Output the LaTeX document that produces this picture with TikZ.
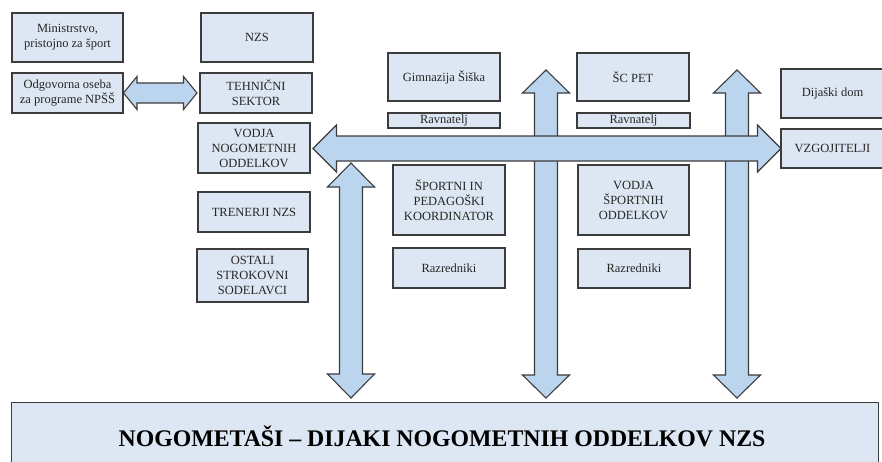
\documentclass[tikz,border=0pt]{standalone}
\usepackage{fontspec}
\setmainfont{Liberation Serif}
\usetikzlibrary{calc}
\definecolor{boxfill}{HTML}{DDE7F3}
\definecolor{arrfill}{HTML}{BCD5EE}
\definecolor{edge}{HTML}{3C3C3C}
\tikzset{
  orgbox/.style={draw=edge, fill=boxfill, line width=1.1pt, inner sep=0pt, align=center,
    font=\fontsize{12.5}{15}\selectfont, text=black!85},
  blockarrow/.style={draw=edge, fill=arrfill, line width=1.1pt, line join=miter}
}
% box: name, x1, y1, x2, y2, text
\newcommand{\orgbx}[6]{%
  \node[orgbox, minimum width={(#4-#2)*1pt}, minimum height={(#5-#3)*1pt}]
    (#1) at ({(#2+#4)/2},{(#3+#5)/2}) {#6};}
% horizontal double block arrow between two named coordinates (same y)
% args: left coord, right coord, shaft half, head half, head length
\newcommand{\hdblarrow}[5]{%
  \draw[blockarrow] let \p1=(#1), \p2=(#2) in
   (\x1,\y1) -- ++(#5,-#4) -- ++(0,#4-#3) -- (\x2-#5pt,\y2+#3pt) -- ++(0,#3-#4)
   -- (\x2,\y2) -- ++(-#5,#4) -- ++(0,#3-#4) -- (\x1+#5pt,\y1-#3pt) -- ++(0,#4-#3) -- cycle;}
% vertical double block arrow: top coord, bottom coord (y axis points down)
\newcommand{\vdblarrow}[5]{%
  \draw[blockarrow] let \p1=(#1), \p2=(#2) in
   (\x1,\y1) -- ++(#4,#5) -- ++(#3-#4,0) -- (\x2+#3pt,\y2+#5pt) -- ++(#4-#3,0)
   -- (\x2,\y2) -- ++(-#4,-#5) -- ++(#4-#3,0) -- (\x1-#3pt,\y1-#5pt) -- ++(#3-#4,0) -- cycle;}
\begin{document}
\begin{tikzpicture}[x=1pt,y=-1pt]
\useasboundingbox (0,0) rectangle (882,461);
\clip (0,0) rectangle (882,461);

% left column
\orgbx{min}{12}{13}{123}{62}{Ministrstvo,\\pristojno za šport}
\orgbx{odg}{12}{73}{123}{113}{Odgovorna oseba\\za programe NPŠŠ}
\orgbx{nzs}{201}{13}{313}{62}{NZS}
\orgbx{teh}{200}{73}{312}{113}{TEHNIČNI\\SEKTOR}
\orgbx{vodja}{198}{123}{310}{173}{VODJA\\NOGOMETNIH\\ODDELKOV}
\orgbx{tren}{198}{192}{310}{232}{TRENERJI NZS}
\orgbx{ost}{197}{249}{308}{302}{OSTALI\\STROKOVNI\\SODELAVCI}

% Gimnazija
\orgbx{gim}{388}{53}{500}{101}{Gimnazija Šiška}
\orgbx{rav1}{388}{113}{500}{128}{Ravnatelj}
\orgbx{spk}{393}{165}{505}{235}{ŠPORTNI IN\\PEDAGOŠKI\\KOORDINATOR}
\orgbx{raz1}{393}{248}{505}{288}{Razredniki}

% SC PET
\orgbx{scpet}{577}{53}{689}{101}{ŠC PET}
\orgbx{rav2}{577}{113}{690}{128}{Ravnatelj}
\orgbx{vso}{578}{165}{689}{235}{VODJA\\ŠPORTNIH\\ODDELKOV}
\orgbx{raz2}{578}{249}{690}{288}{Razredniki}

% Dijaski dom
\orgbx{dom}{781}{69}{884}{118}{Dijaški dom}
\orgbx{vzg}{781}{129}{884}{168}{VZGOJITELJI}

% bottom box
\node[draw=edge, fill=boxfill, line width=1.1pt, inner sep=0pt,
  minimum width=867pt, minimum height=70pt, anchor=north west] (bottom) at (11,402) {};
\node[font=\fontsize{23.8}{26}\selectfont\bfseries] (btxt) at (442,436)
  {NOGOMETAŠI – DIJAKI NOGOMETNIH ODDELKOV NZS};

% coordinates for arrows
\coordinate (v1t) at (351,163);
\coordinate (v1b) at (351,398);
\coordinate (v2t) at (546,70);
\coordinate (v2b) at (546,398);
\coordinate (v3t) at (737,70);
\coordinate (v3b) at (737,398);
\coordinate (hl) at (313,148.5);
\coordinate (hr) at (781,148.5);
\coordinate (sl) at (123.5,93);
\coordinate (sr) at (197,93);

\vdblarrow{v1t}{v1b}{11.5}{23.5}{24}
\vdblarrow{v2t}{v2b}{11.5}{23.5}{23}
\vdblarrow{v3t}{v3b}{11.5}{23.5}{23}
\hdblarrow{hl}{hr}{12.5}{23.5}{23.5}
\hdblarrow{sl}{sr}{10}{16.5}{13.5}
\end{tikzpicture}
\end{document}
